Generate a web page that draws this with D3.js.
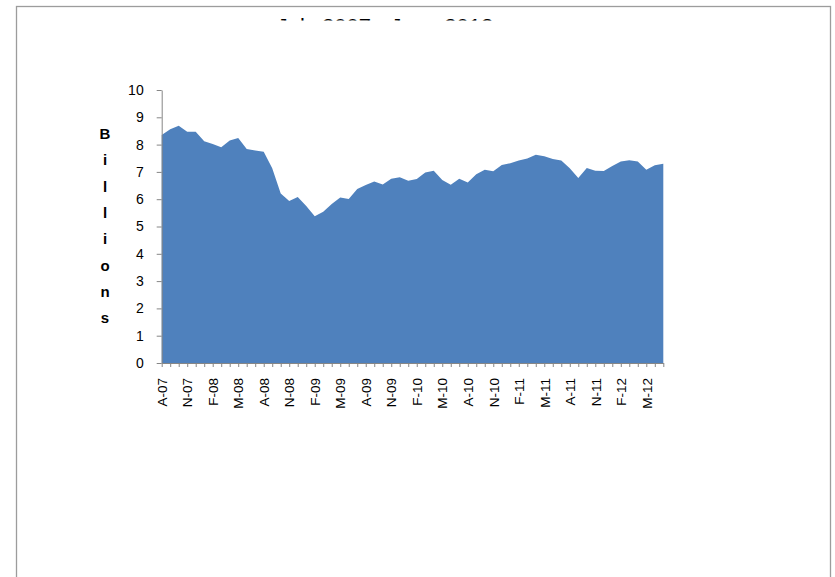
<!DOCTYPE html>
<html>
<head>
<meta charset="utf-8">
<script src="https://cdn.jsdelivr.net/npm/d3@7"></script>
<style>
  html, body { margin: 0; padding: 0; background: #fff; }
  svg { display: block; }
</style>
</head>
<body>
<svg id="chart" width="835" height="577"></svg>
<script>
// ---- data ----
const title = "July 2007 - June 2012";
const yAxisTitle = "Billions";
const categories = [
  "A-07","S-07","O-07","N-07","D-07","J-08","F-08","M-08","A-08","M-08","J-08","J-08",
  "A-08","S-08","O-08","N-08","D-08","J-09","F-09","M-09","A-09","M-09","J-09","J-09",
  "A-09","S-09","O-09","N-09","D-09","J-10","F-10","M-10","A-10","M-10","J-10","J-10",
  "A-10","S-10","O-10","N-10","D-10","J-11","F-11","M-11","A-11","M-11","J-11","J-11",
  "A-11","S-11","O-11","N-11","D-11","J-12","F-12","M-12","A-12","M-12","J-12","J-12"
];
const values = [
  8.35, 8.56, 8.69, 8.47, 8.47, 8.12, 8.02, 7.90, 8.15, 8.24, 7.84, 7.78,
  7.74, 7.13, 6.21, 5.93, 6.08, 5.75, 5.38, 5.54, 5.82, 6.06, 6.01, 6.37,
  6.52, 6.65, 6.54, 6.75, 6.80, 6.68, 6.74, 6.98, 7.04, 6.70, 6.53, 6.75,
  6.61, 6.91, 7.08, 7.02, 7.25, 7.32, 7.42, 7.49, 7.63, 7.57, 7.47, 7.42,
  7.13, 6.78, 7.14, 7.04, 7.03, 7.22, 7.38, 7.43, 7.38, 7.08, 7.24, 7.30
];
const yTicks = [0,1,2,3,4,5,6,7,8,9,10];
const labelEvery = 3;

// ---- layout ----
const svg = d3.select("#chart");
const plotLeft = 161.7, plotRight = 663.3, plotTop = 90, plotBottom = 363;

const x = d3.scalePoint().domain(d3.range(categories.length)).range([plotLeft, plotRight]);
const y = d3.scaleLinear().domain([0, 10]).range([plotBottom, plotTop]);

// frame
svg.append("rect")
  .attr("x", 16.5).attr("y", 6.5)
  .attr("width", 814).attr("height", 640)
  .attr("fill", "#fff")
  .attr("stroke", "#9c9c9c").attr("stroke-width", 1.3);

// clipped title (only top slice visible)
svg.append("clipPath").attr("id", "titleClip")
  .append("rect").attr("x", 0).attr("y", 17.8).attr("width", 835).attr("height", 2.8);
svg.append("text")
  .attr("clip-path", "url(#titleClip)")
  .attr("x", 385).attr("y", 34)
  .attr("text-anchor", "middle")
  .attr("font-family", "Liberation Sans, Arial, sans-serif")
  .attr("font-size", 22)
  .attr("fill", "#000")
  .text(title);

// area
const area = d3.area()
  .x((d, i) => x(i))
  .y0(y(0))
  .y1(d => y(d));
svg.append("path")
  .datum(values)
  .attr("d", area)
  .attr("fill", "#4f81bd");

// y axis
const yAxis = svg.append("g")
  .attr("transform", `translate(${plotLeft},0)`)
  .call(d3.axisLeft(y).tickValues(yTicks).tickSize(5).tickPadding(13).tickSizeOuter(0));
yAxis.select(".domain").attr("stroke", "#868686");
yAxis.selectAll(".tick line").attr("stroke", "#868686");
yAxis.selectAll(".tick text")
  .attr("font-family", "Liberation Sans, Arial, sans-serif")
  .attr("font-size", 14)
  .attr("fill", "#000");

// x axis
const xAxis = svg.append("g")
  .attr("transform", `translate(0,${plotBottom})`)
  .call(d3.axisBottom(x).tickSize(4).tickSizeOuter(0)
    .tickFormat(i => (i % labelEvery === 0 ? categories[i] : "")));
xAxis.select(".domain").attr("stroke", "#868686");
xAxis.selectAll(".tick line").attr("stroke", "#868686");
xAxis.selectAll(".tick text")
  .attr("font-family", "Liberation Sans, Arial, sans-serif")
  .attr("font-size", 13.5)
  .attr("fill", "#000")
  .attr("text-anchor", "end")
  .attr("dy", "0.35em")
  .attr("transform", "translate(0,15) rotate(-90)")
  .attr("x", 0).attr("y", 0);

// y axis title (stacked letters)
const letters = yAxisTitle.split("");
svg.append("g").selectAll("text")
  .data(letters)
  .join("text")
  .attr("x", 105)
  .attr("y", (d, i) => 139 + i * 26.3)
  .attr("text-anchor", "middle")
  .attr("font-family", "Liberation Sans, Arial, sans-serif")
  .attr("font-size", 15)
  .attr("font-weight", "bold")
  .attr("fill", "#000")
  .text(d => d);
</script>
</body>
</html>
